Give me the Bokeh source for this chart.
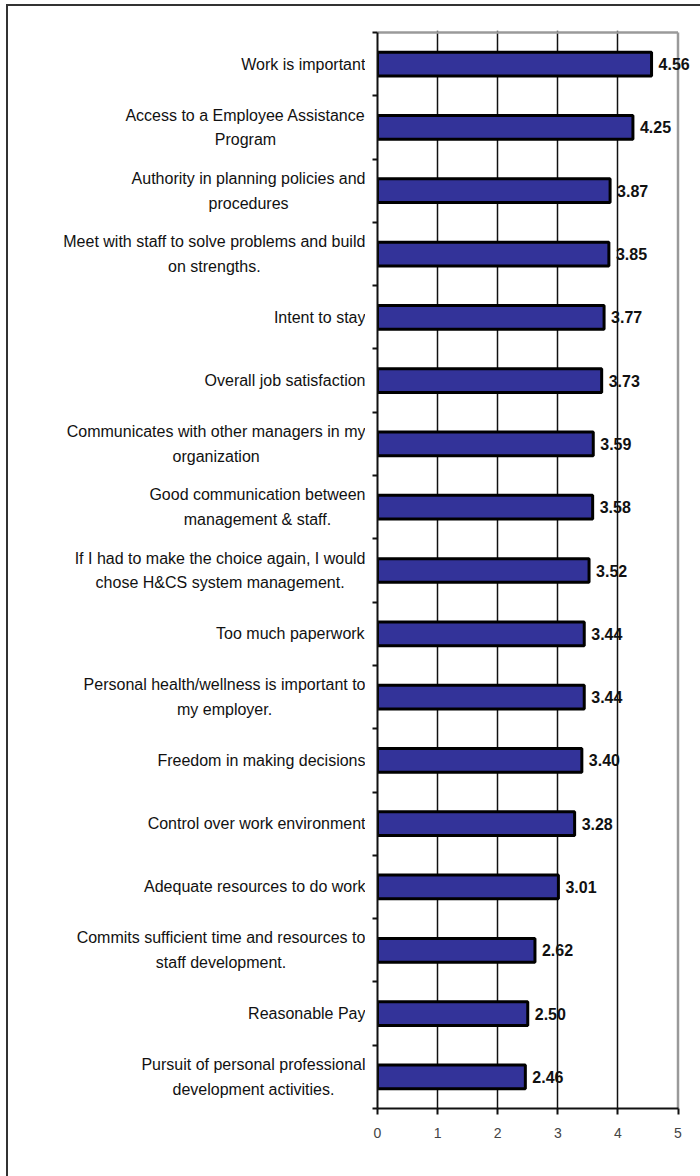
from bokeh.plotting import figure
from bokeh.models import ColumnDataSource, FixedTicker, Range1d, CustomJSTickFormatter
from bokeh.layouts import row
from bokeh.core.properties import value
from bokeh.embed import file_html
from bokeh.resources import INLINE

categories = [
    "Work is important",
    "Access to a Employee Assistance\nProgram",
    "Authority in planning policies and\nprocedures",
    "Meet with staff to solve problems and build\non strengths.",
    "Intent to stay",
    "Overall job satisfaction",
    "Communicates with other managers in my\norganization",
    "Good communication between\nmanagement & staff.",
    "If I had to make the choice again, I would\nchose H&CS system management.",
    "Too much paperwork",
    "Personal health/wellness is important to\nmy employer.",
    "Freedom in making decisions",
    "Control over work environment",
    "Adequate resources to do work",
    "Commits sufficient time and resources to\nstaff development.",
    "Reasonable Pay",
    "Pursuit of personal professional\ndevelopment activities.",
]
scores = [4.56, 4.25, 3.87, 3.85, 3.77, 3.73, 3.59, 3.58, 3.52, 3.44, 3.44, 3.40, 3.28, 3.01, 2.62, 2.50, 2.46]
x_ticks = [0, 1, 2, 3, 4, 5]
grid_ticks = [1, 2, 3, 4]
x_max = 5

FONT = "Liberation Sans"
FS = 16
# Arial / Liberation Sans advance widths (per 1000 em)
W = {' ': 278, '&': 667, ',': 278, '.': 278, '/': 278, '-': 333,
     'A': 667, 'B': 667, 'C': 722, 'D': 722, 'E': 667, 'F': 611, 'G': 778, 'H': 722, 'I': 278,
     'J': 500, 'K': 667, 'L': 556, 'M': 833, 'N': 722, 'O': 778, 'P': 667, 'Q': 778, 'R': 722,
     'S': 667, 'T': 611, 'U': 722, 'V': 667, 'W': 944, 'X': 667, 'Y': 667, 'Z': 611,
     'a': 556, 'b': 556, 'c': 500, 'd': 556, 'e': 556, 'f': 278, 'g': 556, 'h': 556, 'i': 222,
     'j': 222, 'k': 500, 'l': 222, 'm': 833, 'n': 556, 'o': 556, 'p': 556, 'q': 556, 'r': 333,
     's': 500, 't': 278, 'u': 556, 'v': 500, 'w': 722, 'x': 500, 'y': 500, 'z': 500}


def text_width(s):
    return sum(W.get(c, 556) for c in s) * FS / 1000.0


n = len(categories)
ys = [n - 1 - i for i in range(n)]

# geometry (pixels)
PX_PER_CAT = (1108 - 32) / n
TOP_PAD = 2
y_range = Range1d(-0.5, n - 0.5 + TOP_PAD / PX_PER_CAT)
MB_TOP = 24
MB_BOT = 68
H = 1170
LEFT_W = 357
RIGHT_W = 335
PX_PER_X = 60.1
x_end = x_max + (RIGHT_W - 12 - x_max * PX_PER_X) / PX_PER_X

# ---- right figure: bars ----
p = figure(width=RIGHT_W, height=H, x_range=Range1d(0, x_end), y_range=y_range,
           output_backend="svg", toolbar_location=None,
           min_border_left=12, min_border_right=0, min_border_top=MB_TOP, min_border_bottom=MB_BOT)
p.background_fill_color = "white"
p.border_fill_color = "white"
p.outline_line_color = None

p.ygrid.visible = False
p.xgrid.ticker = FixedTicker(ticks=grid_ticks)
p.xgrid.grid_line_color = "#111111"
p.xgrid.grid_line_width = 1.5
p.xgrid.bounds = (-0.5, n - 0.5)

# frame border (top and right) in grey
p.segment(x0=[0, x_max], y0=[n - 0.5, -0.5], x1=[x_max, x_max], y1=[n - 0.5, n - 0.5],
          line_color="#9a9a9a", line_width=2.5)

p.xaxis.ticker = FixedTicker(ticks=x_ticks)
p.xaxis.bounds = (0, x_max)
p.xaxis.axis_line_color = "#111111"
p.xaxis.axis_line_width = 2
p.xaxis.major_tick_line_color = "#111111"
p.xaxis.major_tick_line_width = 2
p.xaxis.major_tick_out = 6
p.xaxis.major_tick_in = 0
p.xaxis.minor_tick_line_color = None
p.xaxis.major_label_text_font = FONT
p.xaxis.major_label_text_font_size = "14px"
p.xaxis.major_label_text_color = "#444444"
p.xaxis.major_label_standoff = 13

p.yaxis.ticker = FixedTicker(ticks=[y + 0.5 for y in range(-1, n)])
p.yaxis.bounds = (-0.5, n - 0.5)
p.yaxis.axis_line_color = "#111111"
p.yaxis.axis_line_width = 2
p.yaxis.major_tick_line_color = "#111111"
p.yaxis.major_tick_line_width = 2
p.yaxis.major_tick_out = 5
p.yaxis.major_tick_in = 0
p.yaxis.minor_tick_line_color = None
p.yaxis.formatter = CustomJSTickFormatter(code="return '';")
p.yaxis.major_label_standoff = 0

src = ColumnDataSource(dict(y=ys, v=scores, lab=["%.2f" % s for s in scores]))
p.hbar(y="y", left=0, right="v", height=0.375, source=src,
       fill_color="#333399", line_color="#000000", line_width=3)
p.text(x="v", y="y", text="lab", source=src, x_offset=7,
       text_baseline="middle", text_align="left",
       text_font=value(FONT), text_font_size="16px",
       text_font_style="bold", text_color="#111111")

# ---- left figure: category labels ----
pl = figure(width=LEFT_W, height=H, x_range=Range1d(0, LEFT_W), y_range=y_range,
            output_backend="svg", toolbar_location=None,
            min_border_left=0, min_border_right=0, min_border_top=MB_TOP, min_border_bottom=MB_BOT,
            x_axis_location=None, y_axis_location=None)
pl.outline_line_color = None
pl.grid.visible = False
pl.background_fill_color = "white"
pl.border_fill_color = "white"

LINE_OFF = 12.4 / PX_PER_CAT
lx, ly, lt = [], [], []
for cat, y in zip(categories, ys):
    lines = cat.split("\n")
    block = max(text_width(l) for l in lines)
    cx = LEFT_W - block / 2.0
    k = len(lines)
    for j, l in enumerate(lines):
        lx.append(cx)
        ly.append(y + ((k - 1) / 2.0 - j) * 2 * LINE_OFF)
        lt.append(l)
lsrc = ColumnDataSource(dict(x=lx, y=ly, t=lt))
pl.text(x="x", y="y", text="t", source=lsrc, text_align="center", text_baseline="middle",
        text_font=value(FONT), text_font_size="16px", text_color="#111111")

layout = row(pl, p, styles={"margin-left": "6px", "margin-top": "4px",
                            "border-left": "2px solid #333333",
                            "border-top": "2px solid #333333"})

open("out.html", "w").write(file_html(layout, INLINE))
